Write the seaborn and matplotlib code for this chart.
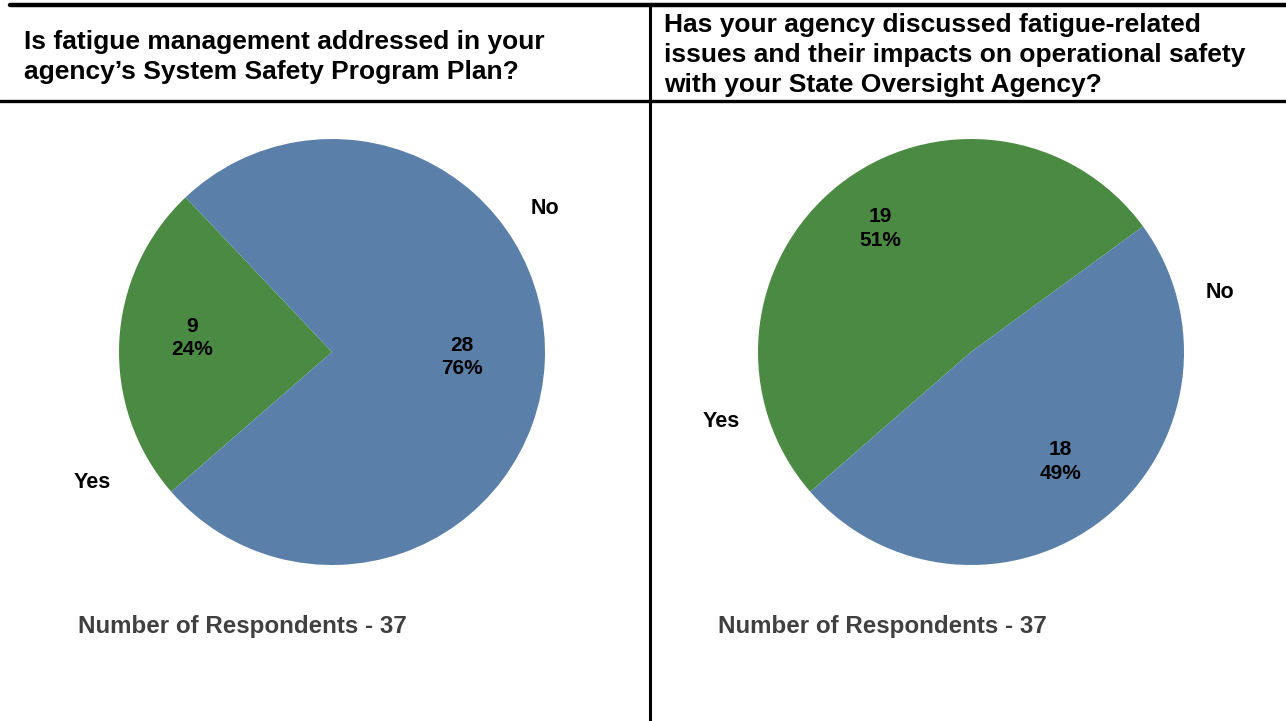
import matplotlib
matplotlib.use("Agg")
import matplotlib.pyplot as plt
from matplotlib.lines import Line2D
import seaborn as sns

sns.set_theme(style="white")
plt.rcParams['font.family'] = ['Liberation Sans', 'DejaVu Sans']

# Survey responses
categories = ["Yes", "No"]
ssp_counts = [9, 28]
soa_counts = [19, 18]
respondents = [37, 37]
questions = [
    "Is fatigue management addressed in your\nagency\u2019s System Safety Program Plan?",
    "Has your agency discussed fatigue-related\nissues and their impacts on operational safety\nwith your State Oversight Agency?",
]
colors = ["#4B8A43", "#5A7FA8"]

W, H = 1286, 721
fig = plt.figure(figsize=(W / 100, H / 100), dpi=100)
fig.patch.set_facecolor("white")


def px(x, y):
    return x / W, 1 - y / H


# table rules
for (x0, y0), (x1, y1), lw in [((10, 5), (W, 5), 3.2), ((0, 101), (W, 101), 2.4),
                                ((650, 5), (650, H), 2.2)]:
    a, b = px(x0, y0)
    c, d = px(x1, y1)
    fig.add_artist(Line2D([a, c], [b, d], color="black", lw=lw, transform=fig.transFigure))

# question headers
fig.text(*px(24, 57), questions[0], ha="left", va="center", fontsize=19,
         fontweight="bold", color="black", linespacing=1.3)
fig.text(*px(664, 55), questions[1], ha="left", va="center", fontsize=19,
         fontweight="bold", color="black", linespacing=1.33)

R = 213
panels = [
    dict(cx=332, counts=ssp_counts, n=respondents[0],
         outer={"No": (1.00, 0.676), "Yes": (-1.127, -0.615)}, foot_x=78,
         inner=[(-0.657, 0.065), (0.61, -0.023)]),
    dict(cx=971, counts=soa_counts, n=respondents[1],
         outer={"No": (1.169, 0.277), "Yes": (-1.174, -0.324)}, foot_x=718,
         inner=[(-0.427, 0.58), (0.418, -0.515)]),
]

for p in panels:
    left = (p["cx"] - R) / W
    bottom = (H - 352 - R) / H
    ax = fig.add_axes([left, bottom, 2 * R / W, 2 * R / H])
    total = sum(p["counts"])
    wedges, _, autotexts = ax.pie(
        p["counts"], colors=colors, startangle=221, counterclock=False,
        autopct=lambda pct, t=total: f"{round(pct * t / 100)}\n{pct:.0f}%",
        pctdistance=0.65, radius=1.0,
        wedgeprops=dict(linewidth=0, edgecolor="none"),
        textprops=dict(fontsize=15, fontweight="bold", color="black", linespacing=1.3),
    )
    for t, pos in zip(autotexts, p["inner"]):
        t.set_position(pos)
    for name, (x, y) in p["outer"].items():
        ax.text(x, y, name, ha="center", va="center", fontsize=15.5,
                fontweight="bold", color="black")
    ax.set_xlim(-1, 1)
    ax.set_ylim(-1, 1)
    ax.set_aspect("equal")
    ax.axis("off")
    fig.text(*px(p["foot_x"], 626), f"Number of Respondents - {p['n']}", ha="left",
             va="center", fontsize=17.4, fontweight="bold", color="#404040")

fig.savefig("out.png", dpi=100, facecolor="white")
